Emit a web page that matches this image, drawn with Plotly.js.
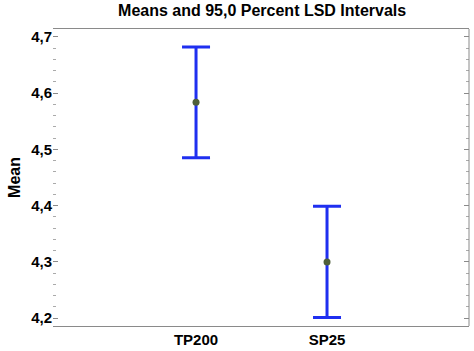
<!DOCTYPE html>
<html>
<head>
<meta charset="utf-8">
<script src="https://cdn.plot.ly/plotly-3.0.1.min.js"></script>
<style>html,body{margin:0;padding:0;background:#fff;}#chart{width:474px;height:351px;}</style>
</head>
<body>
<div id="chart"></div>
<script>
const categories = ["TP200", "SP25"];
const means = [4.584, 4.300];
const upper = [4.682, 4.399];
const lower = [4.485, 4.201];

const trace = {
  type: "scatter",
  mode: "markers",
  x: categories,
  y: means,
  marker: {color: "#4f5f3a", size: 7},
  error_y: {
    type: "data",
    symmetric: false,
    array: upper.map((u, i) => u - means[i]),
    arrayminus: lower.map((l, i) => means[i] - l),
    color: "#1f2ff0",
    thickness: 3,
    width: 14
  },
  hoverinfo: "none"
};

const F = "Liberation Sans, Arial, sans-serif";
const layout = {
  width: 474, height: 351,
  margin: {l: 53, r: 5, t: 29, b: 25},
  paper_bgcolor: "#fff", plot_bgcolor: "#fff",
  separators: ",.",
  showlegend: false,
  title: {text: "Means and 95,0 Percent LSD Intervals", font: {family: F, size: 16, color: "#000", weight: "bold"}, x: 0.553, xanchor: "center", y: 0.97, yanchor: "middle"},
  xaxis: {
    type: "category",
    range: [-1.092, 2.084],
    showline: true, mirror: true, linecolor: "#8a8a8a", linewidth: 1,
    showgrid: false, zeroline: false, ticks: "",
    tickfont: {family: F, size: 15, color: "#000", weight: "bold"}
  },
  yaxis: {
    range: [4.186, 4.714],
    dtick: 0.1, tick0: 4.2, tickformat: ".1f",
    ticks: "inside", ticklen: 5, tickcolor: "#8a8a8a",
    mirror: "ticks", showline: false,
    minor: {dtick: 0.02, ticks: "inside", ticklen: 3, tickcolor: "#aaaaaa", showgrid: false},
    showgrid: false, zeroline: false,
    tickfont: {family: F, size: 15, color: "#000", weight: "bold"},
    title: {text: "Mean", font: {family: F, size: 16, color: "#000", weight: "bold"}, standoff: 6}
  },
  shapes: [
    {type: "line", xref: "paper", yref: "paper", x0: 1, x1: 1, y0: 0, y1: 1, line: {color: "#8a8a8a", width: 1}}
  ]
};

Plotly.newPlot("chart", [trace], layout, {displayModeBar: false, staticPlot: true});
</script>
</body>
</html>
